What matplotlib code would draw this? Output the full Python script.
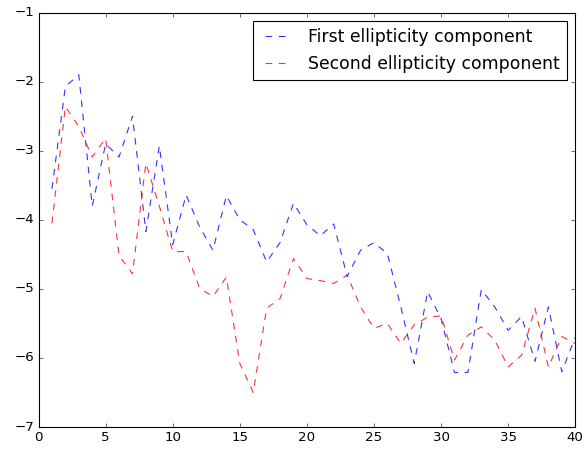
import numpy as np
import matplotlib
matplotlib.use('Agg')
import matplotlib.pyplot as plt

plt.style.use('classic')

x = np.arange(1, 41)
first = [-3.55, -2.07, -1.9, -3.8, -2.9, -3.09, -2.5, -4.17, -2.93, -4.36,
         -3.64, -4.1, -4.44, -3.65, -4.0, -4.14, -4.61, -4.33, -3.76, -4.07,
         -4.23, -4.06, -4.82, -4.44, -4.33, -4.49, -5.26, -6.08, -5.04, -5.43,
         -6.21, -6.21, -5.01, -5.26, -5.6, -5.4, -6.05, -5.26, -6.2, -5.7]
second = [-4.05, -2.36, -2.65, -3.09, -2.82, -4.52, -4.78, -3.18, -3.8, -4.46,
          -4.46, -4.99, -5.11, -4.83, -6.08, -6.5, -5.28, -5.14, -4.56, -4.85,
          -4.88, -4.92, -4.8, -5.26, -5.57, -5.5, -5.79, -5.52, -5.41, -5.39,
          -6.03, -5.67, -5.55, -5.74, -6.13, -5.96, -5.28, -6.13, -5.69, -5.79]

fig = plt.figure(figsize=(7.3, 5.625), dpi=80)
ax = fig.add_axes([0.066, 0.051, 0.919, 0.921])

ax.plot(x, first, 'b--', alpha=0.8, label='First ellipticity component')
ax.plot(x, second, 'r--', alpha=0.8, label='Second ellipticity component')

ax.set_xlim(0, 40)
ax.set_ylim(-7, -1)
ax.legend(loc='upper right', fontsize=15.5)

fig.savefig('out.png', dpi=80)
